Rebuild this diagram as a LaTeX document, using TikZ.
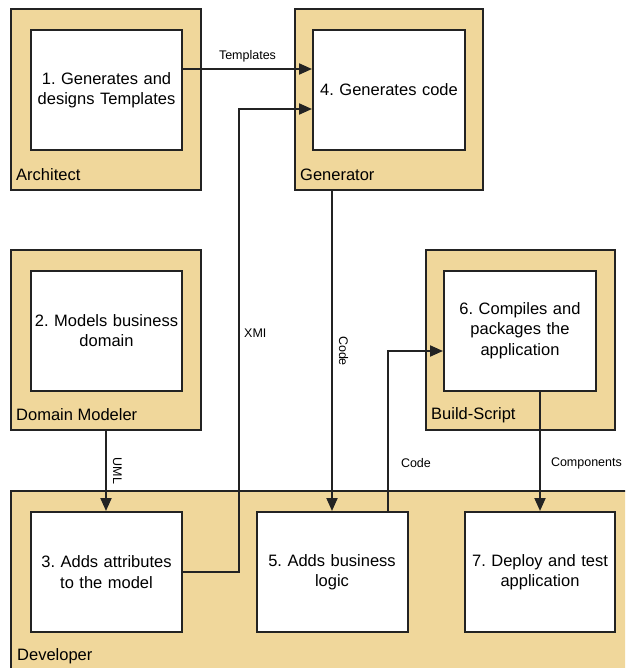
\documentclass[tikz,border=0pt]{standalone}
\usepackage{fontspec}
\setmainfont{Liberation Sans}
\usepackage{tikz}
\usetikzlibrary{arrows.meta}
\definecolor{lanefill}{RGB}{240,215,155}
\definecolor{edge}{RGB}{35,35,35}
\frenchspacing

\tikzset{
  lane/.style={draw=edge, fill=lanefill, line width=2pt, inner sep=0pt},
  task/.style={draw=edge, fill=white, line width=2pt, inner sep=0pt,
    minimum width=151pt, minimum height=120pt, text width=150pt, align=center,
    font=\fontsize{16.5}{20.5}\selectfont},
  lanename/.style={anchor=west, inner sep=0pt, font=\fontsize{16.5}{20}\selectfont},
  flow/.style={draw=edge, line width=2pt, -{Triangle[length=13pt,width=11pt]}},
  flowlabel/.style={inner sep=0pt, font=\fontsize{12.5}{15}\selectfont},
}

\begin{document}
\begin{tikzpicture}[x=1pt,y=-1pt]
\clip (0,0) rectangle (625,668);
% swim lanes
\node[lane, minimum width=190pt, minimum height=181pt] (arch) at (106,99.5) {};
\node[lane, minimum width=188pt, minimum height=181pt] (gen) at (389,99.5) {};
\node[lane, minimum width=190pt, minimum height=180pt] (dom) at (106,340) {};
\node[lane, minimum width=189pt, minimum height=180pt] (build) at (520.5,340) {};
\node[lane, minimum width=629pt, minimum height=189pt] (dev) at (325.5,585.5) {};
\node[lanename] (archname) at ([xshift=6pt,yshift=16pt]arch.south west) {Architect};
\node[lanename] (genname) at ([xshift=6pt,yshift=16pt]gen.south west) {Generator};
\node[lanename] (domname) at ([xshift=6pt,yshift=16pt]dom.south west) {Domain Modeler};
\node[lanename] (buildname) at ([xshift=6pt,yshift=16pt]build.south west) {Build-Script};
\node[lanename] (devname) at (17,656) {Developer};
% steps
\node[task] (design) at (106.5,90) {1. Generates and\\designs Templates};
\node[task, minimum width=152pt] (gencode) at (389,90) {4. Generates code};
\node[task] (models) at (106.5,330.5) {2. Models business\\domain};
\node[task, minimum width=152pt] (compile) at (520,330.5) {6. Compiles and\\packages the\\application};
\node[task] (attrs) at (106.5,572) {3. Adds attributes\\to the model};
\node[task] (logic) at (332,572) {5. Adds business\\logic};
\node[task, minimum width=150pt] (deploy) at (540,572) {7. Deploy and test\\application};
% flows
\draw[flow] ([yshift=21pt]design.east) -- ([yshift=21pt]gencode.west)
  node[midway, above=6pt, flowlabel] {Templates};
\draw[flow] (attrs.east) -- ++(56,0) coordinate (xmibend) |- ([yshift=-19pt]gencode.west);
\node[flowlabel, anchor=west] (xmilbl) at ([xshift=5pt]xmibend |- 0,333) {XMI};
\draw[flow] (logic.north |- gen.south) -- (logic.north)
  node[midway, flowlabel, rotate=-90, anchor=south, inner ysep=6pt] {Code};
\draw[flow] (dom.south) -- (dom.south |- attrs.north)
  node[midway, flowlabel, rotate=-90, anchor=south, inner ysep=6pt] {UML};
\draw[flow] ([xshift=56pt]logic.north) -- ++(0,-48) node[flowlabel, right=12pt] {Code}
  |- ([yshift=-20.5pt]compile.west);
\draw[flow] (deploy.north |- compile.south) -- (deploy.north)
  node[pos=0.6, flowlabel, right=10pt] {Components};
\end{tikzpicture}
\end{document}
